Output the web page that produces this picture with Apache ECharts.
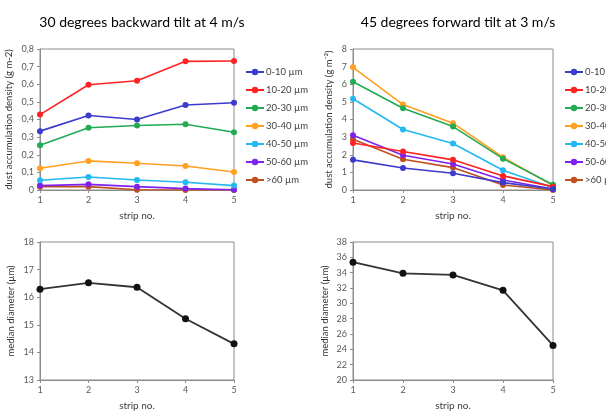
<!DOCTYPE html>
<html><head><meta charset="utf-8">
<script src="https://cdn.jsdelivr.net/npm/echarts@6/dist/echarts.min.js"></script>
<style>html,body{margin:0;padding:0;background:#fff}#c{width:606px;height:412px}</style>
</head><body><div id="c"></div>
<script>
const strips = ['1','2','3','4','5'];
const sizeClasses = ['0-10 µm','10-20 µm','20-30 µm','30-40 µm','40-50 µm','50-60 µm','>60 µm'];
const classColors = ['#3b3bcc','#ff2222','#22aa55','#ffa020','#22b8f0','#7f22f0','#c0501e'];
// 30 degrees backward tilt at 4 m/s (g m-2)
const back_0_10  = [0.334,0.423,0.400,0.482,0.495];
const back_10_20 = [0.428,0.597,0.620,0.730,0.732];
const back_20_30 = [0.254,0.353,0.366,0.373,0.328];
const back_30_40 = [0.123,0.165,0.152,0.136,0.102];
const back_40_50 = [0.055,0.074,0.057,0.044,0.025];
const back_50_60 = [0.025,0.032,0.019,0.008,0.001];
const back_60    = [0.019,0.019,0.001,0.000,0.000];
// 45 degrees forward tilt at 3 m/s (g m-2)
const fwd_0_10  = [1.71,1.25,0.95,0.42,0.06];
const fwd_10_20 = [2.67,2.18,1.71,0.80,0.19];
const fwd_20_30 = [6.14,4.64,3.60,1.78,0.30];
const fwd_30_40 = [6.96,4.85,3.79,1.86,0.25];
const fwd_40_50 = [5.18,3.43,2.64,1.12,0.13];
const fwd_50_60 = [3.11,1.97,1.48,0.57,0.06];
const fwd_60    = [2.88,1.74,1.27,0.28,0.00];
// median diameters (µm)
const backMedian = [16.29,16.52,16.36,15.22,14.31];
const fwdMedian  = [35.36,33.91,33.70,31.70,24.51];
const yTicksBack = [0,0.8,0.1];
const yTicksFwd = [0,8,1];
const yTicksBackMed = [13,18,1];
const yTicksFwdMed = [20,38,2];

const backSets = [back_0_10,back_10_20,back_20_30,back_30_40,back_40_50,back_50_60,back_60];
const fwdSets = [fwd_0_10,fwd_10_20,fwd_20_30,fwd_30_40,fwd_40_50,fwd_50_60,fwd_60];

const FONT = 'Lato, "Open Sans", sans-serif';
const gray = '#8c8c8c';
const labelColor = '#595959';

function xAx(gi){
  return {type:'category', gridIndex:gi, data:strips, boundaryGap:false,
    name:'strip no.', nameLocation:'middle', nameGap:21,
    nameTextStyle:{fontFamily:FONT, fontSize:10, color:'#404040'},
    axisLine:{lineStyle:{color:gray, width:1}},
    axisTick:{show:true, length:3, alignWithLabel:true, lineStyle:{color:gray}},
    axisLabel:{fontFamily:FONT, fontSize:9, color:labelColor, margin:6},
    splitLine:{show:false}};
}
function yAx(gi, t, name, gap, fmt){
  return {type:'value', gridIndex:gi, min:t[0], max:t[1], interval:t[2],
    name:name, nameLocation:'middle', nameGap:gap,
    nameTextStyle:{fontFamily:FONT, fontSize:9.5, color:'#333'},
    axisLine:{show:true, lineStyle:{color:gray, width:1}},
    axisTick:{show:true, length:3, lineStyle:{color:gray}},
    axisLabel:{fontFamily:FONT, fontSize:9, color:labelColor, margin:6, formatter:fmt},
    splitLine:{show:false}};
}
const commaFmt = v => v === 0 ? '0' : v.toFixed(1).replace('.', ',');

const series = [];
sizeClasses.forEach((n,i)=>{
  series.push({type:'line', name:n, xAxisIndex:0, yAxisIndex:0, data:backSets[i],
    color:classColors[i], symbol:'circle', symbolSize:6, lineStyle:{width:1.6}, z:10-i});
});
sizeClasses.forEach((n,i)=>{
  series.push({type:'line', name:n, xAxisIndex:1, yAxisIndex:1, data:fwdSets[i],
    color:classColors[i], symbol:'circle', symbolSize:6, lineStyle:{width:1.6}, z:10-i});
});
series.push({type:'line', name:'median back', xAxisIndex:2, yAxisIndex:2, data:backMedian,
  color:'#111', symbol:'circle', symbolSize:7, lineStyle:{width:1.8, color:'#333'}});
series.push({type:'line', name:'median fwd', xAxisIndex:3, yAxisIndex:3, data:fwdMedian,
  color:'#111', symbol:'circle', symbolSize:7, lineStyle:{width:1.8, color:'#333'}});

const gridStyle = {show:true, borderColor:gray, borderWidth:1, backgroundColor:'transparent'};
const legendCommon = {orient:'vertical', data:sizeClasses, itemWidth:18, itemHeight:8, itemGap:8,
  textStyle:{fontFamily:FONT, fontSize:9.5, color:'#404040', padding:[0,0,0,-3]}, selectedMode:false, padding:0};

const option = {
  animation:false,
  backgroundColor:'#fff',
  title:[
    {text:'30 degrees backward tilt at 4 m/s', left:137, top:10, textAlign:'center',
      textStyle:{fontFamily:FONT, fontSize:14, fontWeight:'normal', color:'#000'}},
    {text:'45 degrees forward tilt at 3 m/s', left:453, top:10, textAlign:'center',
      textStyle:{fontFamily:FONT, fontSize:14, fontWeight:'normal', color:'#000'}}
  ],
  legend:[
    Object.assign({left:245, top:67}, legendCommon),
    Object.assign({left:564, top:67}, legendCommon)
  ],
  grid:[
    Object.assign({left:40, top:49, width:194, height:141}, gridStyle),
    Object.assign({left:353, top:49, width:200, height:141}, gridStyle),
    Object.assign({left:40, top:242, width:194, height:141}, gridStyle),
    Object.assign({left:353, top:242, width:200, height:141}, gridStyle)
  ],
  xAxis:[xAx(0), xAx(1), xAx(2), xAx(3)],
  yAxis:[
    yAx(0, yTicksBack, 'dust accumulation density (g m-2)', 26, commaFmt),
    yAx(1, yTicksFwd, 'dust accumulation density (g m⁻²)', 19),
    yAx(2, yTicksBackMed, 'median diameter (µm)', 24),
    yAx(3, yTicksFwdMed, 'median diameter (µm)', 23)
  ],
  series:series
};
const chart = echarts.init(document.getElementById('c'), null, {renderer:'canvas'});
chart.setOption(option);
</script></body></html>
